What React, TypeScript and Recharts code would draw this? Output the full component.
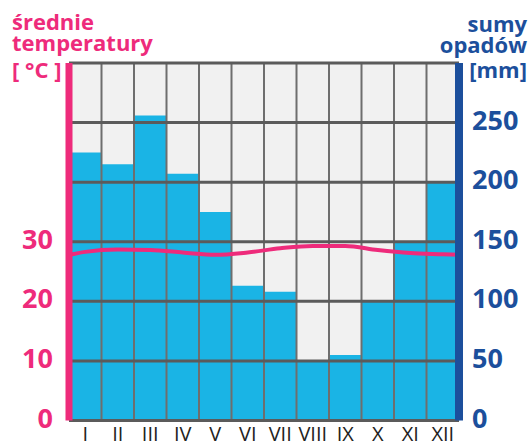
import React from "react";
import {
  Bar,
  ComposedChart,
  Line,
  ReferenceLine,
  XAxis,
  YAxis,
} from "recharts";

const pink = "#ee2b7b";
const blue = "#1c4f9c";
const barFill = "#1ab4e5";
const plotBg = "#f1f1f1";
const gridH = "#5b5b5b";
const gridV = "#6e6e6e";
const font = "'Open Sans', sans-serif";

// months and monthly precipitation (mm)
const months = ["I", "II", "III", "IV", "V", "VI", "VII", "VIII", "IX", "X", "XI", "XII"];
const precip = [225, 215, 256, 207, 175, 113, 108, 50, 55, 100, 150, 200];

// mean temperature (°C), plus the value where the curve meets each plot edge
const temp = [28.3, 28.7, 28.6, 28.2, 27.8, 28.2, 28.9, 29.3, 29.3, 28.6, 28.1, 27.9];
const tempEdges = [27.8, 27.8];

const tempTicks = [0, 10, 20, 30];
const precipTicks = [0, 50, 100, 150, 200, 250];
const hLines = [0, 50, 100, 150, 200, 250, 300];
const vLines = [1, 2, 3, 4, 5, 6, 7, 8, 9, 10, 11];

const barData = months.map((m, i) => ({ m, p: precip[i] }));
const lineData = [
  { x: 0, t: tempEdges[0] },
  ...temp.map((t, i) => ({ x: i + 0.5, t })),
  { x: 12, t: tempEdges[1] },
];

function YTick(props: any) {
  const { x, y, payload, textAnchor, color } = props;
  return (
    <text
      x={x}
      y={y + 7}
      textAnchor={textAnchor}
      fill={color}
      fontSize={27}
      fontWeight={700}
      fontFamily={font}
    >
      {payload.value}
    </text>
  );
}

export default function App() {
  const W = 530;
  const H = 445;
  return (
    <div style={{ position: "absolute", left: 0, top: 0, width: W, height: H, background: "#fff" }}>
      <div style={{ position: "absolute", left: 69, top: 63, width: 390, height: 357.5, background: plotBg }} />
      <div style={{ position: "absolute", left: 0, top: 0 }}>
        <ComposedChart
          width={W}
          height={H}
          data={barData}
          margin={{ top: 63, right: 0, bottom: 0, left: 0 }}
          barCategoryGap={0}
        >
          <XAxis
            xAxisId="cat"
            dataKey="m"
            height={24.5}
            axisLine={false}
            tickLine={false}
            tickSize={0}
            tickMargin={6}
            interval={0}
            tick={{ fill: "#222", fontSize: 20, fontFamily: font }}
          />
          <XAxis xAxisId="num" type="number" dataKey="x" domain={[0, 12]} hide />
          <YAxis
            yAxisId="left"
            orientation="left"
            width={69}
            domain={[0, 60]}
            ticks={tempTicks}
            interval={0}
            tickSize={0}
            tickMargin={16}
            tickLine={false}
            axisLine={{ stroke: pink, strokeWidth: 7 }}
            tick={(p: any) => <YTick {...p} color={pink} />}
          />
          <YAxis
            yAxisId="right"
            orientation="right"
            width={71}
            domain={[0, 300]}
            ticks={precipTicks}
            interval={0}
            tickSize={0}
            tickMargin={13}
            tickLine={false}
            axisLine={{ stroke: blue, strokeWidth: 8 }}
            tick={(p: any) => <YTick {...p} color={blue} />}
          />
          <Bar
            xAxisId="cat"
            yAxisId="right"
            dataKey="p"
            fill={barFill}
            isAnimationActive={false}
          />
          {vLines.map((v) => (
            <ReferenceLine
              key={"v" + v}
              xAxisId="num"
              yAxisId="right"
              x={v}
              stroke={gridV}
              strokeWidth={2}
            />
          ))}
          {hLines.map((v) => (
            <ReferenceLine
              key={"h" + v}
              xAxisId="num"
              yAxisId="right"
              y={v}
              stroke={gridH}
              strokeWidth={3}
            />
          ))}
          <Line
            xAxisId="num"
            yAxisId="left"
            data={lineData}
            dataKey="t"
            type="monotone"
            stroke={pink}
            strokeWidth={4}
            dot={false}
            isAnimationActive={false}
          />
        </ComposedChart>
      </div>
      <svg
        width={W}
        height={H}
        style={{ position: "absolute", left: 0, top: 0, pointerEvents: "none" }}
        fontFamily={font}
        fontWeight={700}
        fontSize={22}
      >
        <text x={12} y={30} fill={pink}>średnie</text>
        <text x={12} y={51} fill={pink}>temperatury</text>
        <text x={12} y={78} fill={pink}>[ °C ]</text>
        <text x={527} y={32} fill={blue} textAnchor="end">sumy</text>
        <text x={527} y={53} fill={blue} textAnchor="end">opadów</text>
        <text x={527} y={78} fill={blue} textAnchor="end">[mm]</text>
      </svg>
    </div>
  );
}
